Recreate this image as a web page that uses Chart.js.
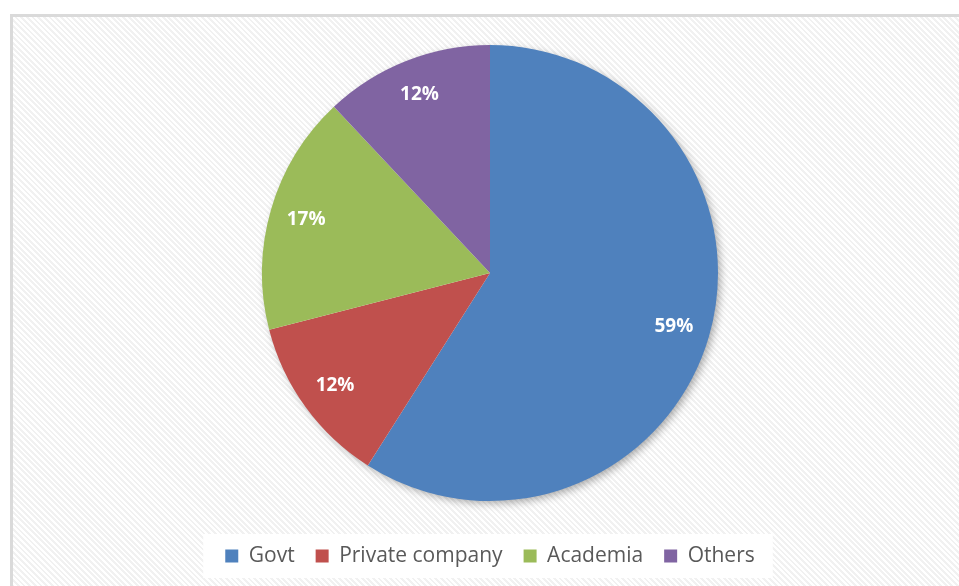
<!DOCTYPE html>
<html>
<head>
<meta charset="utf-8">
<script src="https://cdn.jsdelivr.net/npm/chart.js@4"></script>
<style>
  html, body { margin: 0; padding: 0; background: #fff; overflow: hidden; }
  #frame {
    position: absolute; left: 10px; top: 14px; width: 960px; height: 590px;
    border: 3px solid #dadada;
    background: repeating-linear-gradient(45deg, #ffffff 0 2px, #f1f1f1 2px 4px);
  }
  #wrap { position: absolute; left: 0; top: 0; width: 959px; height: 586px; }
</style>
</head>
<body>
<div id="frame"></div>
<div id="wrap"><canvas id="chart" width="959" height="586"></canvas></div>
<script>
'use strict';

const categories = ['Govt', 'Private company', 'Academia', 'Others'];
const shares = [59, 12, 17, 12];
const colors = ['#4F81BD', '#C0504D', '#9BBB59', '#8064A2'];

const LEGEND_PAD = 21;
const LEGEND_FONT = 21;

// Soft shadow under the whole pie
const pieShadow = {
  id: 'pieShadow',
  beforeDatasetsDraw(chart) {
    const arc = chart.getDatasetMeta(0).data[0];
    if (!arc) return;
    const { x, y, outerRadius } = arc.getProps(['x', 'y', 'outerRadius'], true);
    const c = chart.ctx;
    c.save();
    c.shadowColor = 'rgba(0,0,0,0.35)';
    c.shadowBlur = 9;
    c.shadowOffsetX = 3;
    c.shadowOffsetY = 3;
    c.fillStyle = '#ffffff';
    c.beginPath();
    c.arc(x, y, outerRadius - 1, 0, Math.PI * 2);
    c.fill();
    c.restore();
  }
};

// White box behind legend items
const legendBox = {
  id: 'legendBox',
  beforeDraw(chart) {
    const lg = chart.legend;
    if (!lg || !lg.legendHitBoxes || !lg.legendHitBoxes.length) return;
    const boxes = lg.legendHitBoxes;
    const left = boxes[0].left - 22;
    const last = boxes[boxes.length - 1];
    const right = last.left + last.width + 18;
    const cy = boxes[0].top + boxes[0].height / 2;
    const c = chart.ctx;
    c.save();
    c.fillStyle = '#ffffff';
    c.fillRect(left, cy - 22, right - left, 44);
    c.restore();
  }
};

// Percent labels inside slices
const sliceLabels = {
  id: 'sliceLabels',
  afterDatasetsDraw(chart) {
    const meta = chart.getDatasetMeta(0);
    const data = chart.data.datasets[0].data;
    const total = data.reduce((a, b) => a + b, 0);
    const c = chart.ctx;
    c.save();
    c.font = 'bold 19px "Open Sans", sans-serif';
    c.fillStyle = '#ffffff';
    c.textAlign = 'center';
    c.textBaseline = 'middle';
    meta.data.forEach((arc, i) => {
      const p = arc.getProps(['x', 'y', 'startAngle', 'endAngle', 'outerRadius'], true);
      const mid = (p.startAngle + p.endAngle) / 2;
      const r = p.outerRadius * 0.84;
      const pct = Math.round(data[i] / total * 100) + '%';
      c.fillText(pct, p.x + Math.cos(mid) * r, p.y + Math.sin(mid) * r);
    });
    c.restore();
  }
};

new Chart(document.getElementById('chart').getContext('2d'), {
  type: 'pie',
  plugins: [legendBox, pieShadow, sliceLabels],
  data: {
    labels: categories,
    datasets: [{
      data: shares,
      backgroundColor: colors,
      borderWidth: 0,
      radius: 228,
    }]
  },
  options: {
    responsive: false,
    animation: false,
    layout: { padding: { top: 21.5, bottom: 9.5, left: 21, right: 0 } },
    plugins: {
      tooltip: { enabled: false },
      legend: {
        position: 'bottom',
        labels: {
          boxWidth: 13,
          boxHeight: 13,
          padding: LEGEND_PAD,
          color: '#595959',
          font: { size: LEGEND_FONT, family: '"Open Sans", sans-serif' },
        }
      }
    }
  }
});
</script>
</body>
</html>
